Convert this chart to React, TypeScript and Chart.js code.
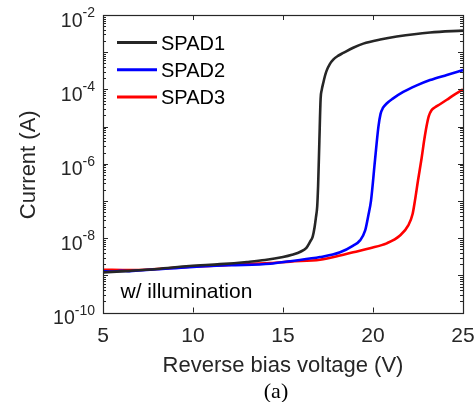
import { useEffect, useRef } from 'react';
import { Chart, registerables } from 'chart.js';

Chart.register(...registerables);

// I–V sweeps under illumination (voltage in V, current in A)
const spad1Voltage = [5, 6.5, 8, 9.8, 11.5, 13, 14, 15, 15.5, 16, 16.3, 16.5, 16.65, 16.75, 16.83, 16.9, 16.95, 17.02, 17.09, 17.15, 17.24, 17.33, 17.43, 17.6, 17.79, 18.05, 18.35, 18.9, 19.46, 20.4, 21.32, 23.17, 25];
const spad1Current = [1.2e-9, 1.32e-9, 1.48e-9, 1.78e-9, 2.0e-9, 2.29e-9, 2.57e-9, 3.09e-9, 3.55e-9, 4.37e-9, 5.5e-9, 7.94e-9, 1.1e-8, 1.91e-8, 3.63e-8, 7.08e-8, 2.51e-7, 3.98e-6, 5.62e-5, 9.55e-5, 1.51e-4, 2.29e-4, 3.24e-4, 4.79e-4, 6.31e-4, 7.94e-4, 9.55e-4, 1.32e-3, 1.7e-3, 2.19e-3, 2.63e-3, 3.39e-3, 3.8e-3];

const spad2Voltage = [5, 5.5, 6, 6.5, 7, 8, 9.8, 12, 14.3, 15.4, 17.06, 18.17, 18.9, 19.28, 19.56, 19.74, 19.89, 20.11, 20.3, 20.42, 20.55, 20.76, 21.1, 21.68, 22.4, 23.17, 24.1, 25];
const spad2Current = [1.29e-9, 1.26e-9, 1.32e-9, 1.29e-9, 1.35e-9, 1.45e-9, 1.66e-9, 1.86e-9, 2.04e-9, 2.4e-9, 3.09e-9, 4.17e-9, 6.31e-9, 8.71e-9, 1.58e-8, 4.07e-8, 1.02e-7, 1.23e-6, 9.77e-6, 2.19e-5, 3.16e-5, 4.17e-5, 5.62e-5, 8.51e-5, 1.26e-4, 1.78e-4, 2.45e-4, 3.31e-4];

const spad3Voltage = [5, 6.5, 8, 9.8, 12, 14.3, 15.4, 17.06, 18.17, 18.9, 19.83, 20.76, 21.5, 21.96, 22.2, 22.33, 22.5, 22.7, 22.85, 22.98, 23.1, 23.25, 23.45, 23.72, 24.1, 24.46, 25];
const spad3Current = [1.41e-9, 1.38e-9, 1.48e-9, 1.7e-9, 1.91e-9, 2.14e-9, 2.34e-9, 2.63e-9, 3.39e-9, 4.17e-9, 5.37e-9, 7.24e-9, 1.17e-8, 2.19e-8, 4.47e-8, 1.02e-7, 3.55e-7, 1.41e-6, 4.47e-6, 1.05e-5, 1.91e-5, 2.75e-5, 3.31e-5, 3.98e-5, 5.25e-5, 6.92e-5, 1.0e-4];

const seriesNames = ['SPAD1', 'SPAD2', 'SPAD3'];

const xTickValues = [5, 10, 15, 20, 25];
const yLabelExponents = [-10, -8, -6, -4, -2];
const yDecadeRange = [-10, -2];

const xTitle = 'Reverse bias voltage (V)';
const yTitle = 'Current (A)';
const panelTag = '(a)';
const noteText = 'w/ illumination';

const SANS = '"Liberation Sans", Arial, Helvetica, sans-serif';
const SERIF = '"Liberation Serif", "Times New Roman", serif';
const AXIS_COLOR = '#262626';

const toPoints = (xs: number[], ys: number[]) => xs.map((v, i) => ({ x: v, y: ys[i] }));

// Box axes with inward ticks on all four sides, superscript decade labels,
// axis titles, the in-plot legend and the annotation.
const matlabAxes = {
  id: 'matlabAxes',
  afterDatasetsDraw(chart: any) {
    const { ctx, chartArea, scales } = chart;
    const { left, right, top, bottom } = chartArea;
    const xs = scales.x;
    const ys = scales.y;
    ctx.save();

    // ticks
    ctx.strokeStyle = AXIS_COLOR;
    ctx.lineWidth = 1;
    ctx.beginPath();
    for (const v of xTickValues) {
      const px = Math.round(xs.getPixelForValue(v)) + 0.5;
      ctx.moveTo(px, bottom);
      ctx.lineTo(px, bottom - 5);
      ctx.moveTo(px, top);
      ctx.lineTo(px, top + 5);
    }
    for (let e = yDecadeRange[0]; e <= yDecadeRange[1]; e++) {
      for (let k = 1; k <= 9; k++) {
        if (e === yDecadeRange[1] && k > 1) break;
        const py = Math.round(ys.getPixelForValue(k * Math.pow(10, e))) + 0.5;
        const len = k === 1 ? 5 : 3;
        ctx.moveTo(left, py);
        ctx.lineTo(left + len, py);
        ctx.moveTo(right, py);
        ctx.lineTo(right - len, py);
      }
    }
    ctx.stroke();

    // box
    ctx.lineWidth = 1.2;
    ctx.strokeRect(Math.round(left) + 0.5, Math.round(top) + 0.5, Math.round(right - left), Math.round(bottom - top));

    // x tick labels
    ctx.fillStyle = AXIS_COLOR;
    ctx.font = `21px ${SANS}`;
    ctx.textAlign = 'center';
    ctx.textBaseline = 'alphabetic';
    for (const v of xTickValues) {
      ctx.fillText(String(v), xs.getPixelForValue(v), bottom + 29);
    }

    // y tick labels: 10 with a superscript exponent
    for (const e of yLabelExponents) {
      const py = ys.getPixelForValue(Math.pow(10, e));
      const sup = `-${Math.abs(e)}`;
      ctx.font = `14px ${SANS}`;
      const supW = ctx.measureText(sup).width;
      const rightEdge = left - 8;
      ctx.textAlign = 'left';
      ctx.fillText(sup, rightEdge - supW, py + 2);
      ctx.font = `19.5px ${SANS}`;
      ctx.textAlign = 'right';
      ctx.fillText('10', rightEdge - supW, py + 11.7);
    }

    // axis titles
    ctx.font = `22px ${SANS}`;
    ctx.textAlign = 'center';
    ctx.fillText(xTitle, (left + right) / 2, bottom + 59);
    ctx.save();
    ctx.translate(35, (top + bottom) / 2 + 1);
    ctx.rotate(-Math.PI / 2);
    ctx.fillText(yTitle, 0, 0);
    ctx.restore();

    // panel tag
    ctx.fillStyle = '#000';
    ctx.font = `22px ${SERIF}`;
    ctx.fillText(panelTag, 276, bottom + 85);

    // legend
    const datasets = chart.data.datasets;
    ctx.font = `20px ${SANS}`;
    ctx.textAlign = 'left';
    datasets.forEach((ds: any, i: number) => {
      const ly = top + 27.5 + i * 27.3;
      ctx.strokeStyle = ds.borderColor;
      ctx.lineWidth = 3;
      ctx.beginPath();
      ctx.moveTo(left + 14, ly);
      ctx.lineTo(left + 54, ly);
      ctx.stroke();
      ctx.fillStyle = '#000';
      ctx.fillText(ds.label, left + 58, ly + 7.3);
    });

    // annotation
    ctx.font = `21px ${SANS}`;
    ctx.fillStyle = '#000';
    ctx.fillText(noteText, left + 17.5, bottom - 14.5);

    ctx.restore();
  },
};

export default function App() {
  const canvasRef = useRef<HTMLCanvasElement | null>(null);

  useEffect(() => {
    if (!canvasRef.current) return;
    const lineStyle = {
      borderWidth: 2.6,
      pointRadius: 0,
      fill: false,
      cubicInterpolationMode: 'monotone' as const,
    };
    const chart = new Chart(canvasRef.current, {
      type: 'line',
      data: {
        datasets: [
          { label: seriesNames[0], data: toPoints(spad1Voltage, spad1Current), borderColor: '#262626', ...lineStyle },
          { label: seriesNames[1], data: toPoints(spad2Voltage, spad2Current), borderColor: '#0000ff', ...lineStyle },
          { label: seriesNames[2], data: toPoints(spad3Voltage, spad3Current), borderColor: '#ff0000', ...lineStyle },
        ],
      },
      options: {
        animation: false,
        responsive: false,
        devicePixelRatio: 1,
        layout: { padding: { left: 103, right: 13, top: 15, bottom: 89.5 } },
        plugins: { legend: { display: false }, tooltip: { enabled: false }, title: { display: false } },
        scales: {
          x: { type: 'linear', min: 5, max: 25, display: false },
          y: { type: 'logarithmic', min: 1e-10, max: 1e-2, display: false },
        },
      },
      plugins: [matlabAxes],
    });
    return () => chart.destroy();
  }, []);

  return (
    <div style={{ position: 'fixed', left: 0, top: 0, width: 476, height: 402, background: '#fff' }}>
      <canvas ref={canvasRef} width={476} height={402} />
    </div>
  );
}
